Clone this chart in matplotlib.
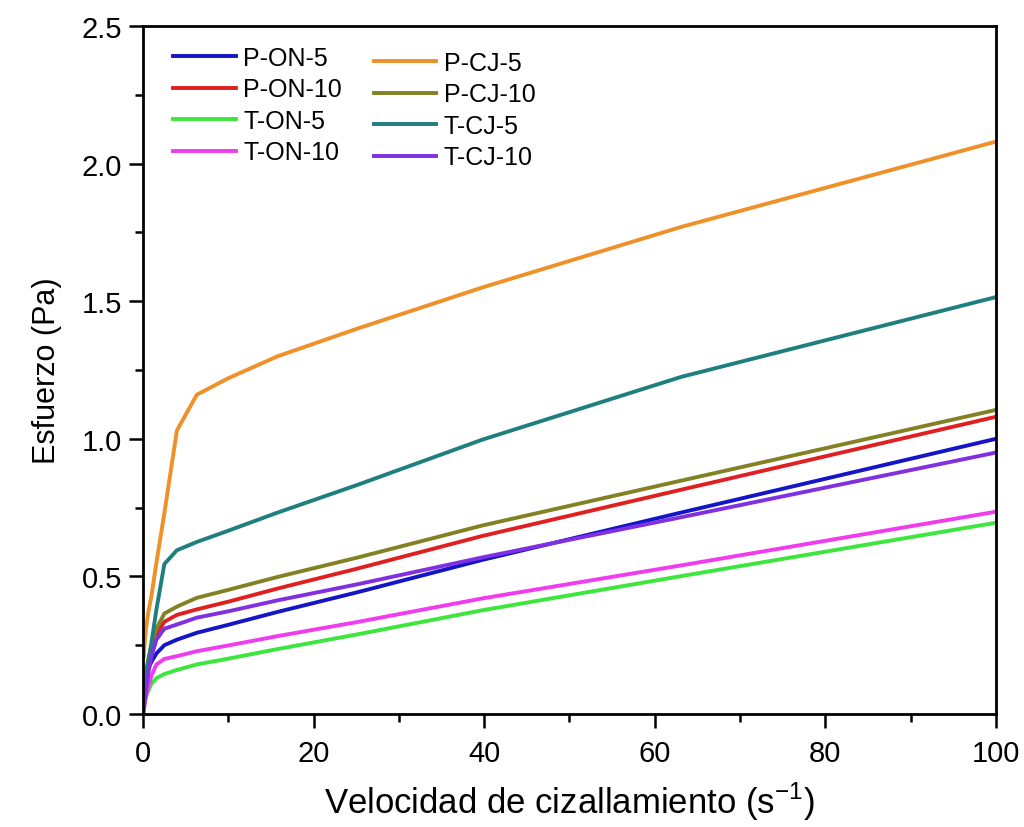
import matplotlib
matplotlib.use("Agg")
import matplotlib.pyplot as plt
from matplotlib.ticker import MultipleLocator, FormatStrFormatter

plt.rcParams['font.family'] = ['Liberation Sans', 'DejaVu Sans']
plt.rcParams['mathtext.fontset'] = 'custom'
plt.rcParams['mathtext.rm'] = 'Liberation Sans'

shear_rate = [0.1, 0.158, 0.251, 0.398, 0.631, 1.0, 1.58, 2.51, 3.98, 6.31,
              10.0, 15.8, 25.1, 39.8, 63.1, 100.0]

P_ON_5  = [0.08, 0.10, 0.12, 0.14, 0.165, 0.19, 0.22, 0.25, 0.27, 0.295,
           0.324, 0.371, 0.442, 0.56, 0.732, 1.00]
P_ON_10 = [0.05, 0.08, 0.11, 0.15, 0.19, 0.24, 0.29, 0.335, 0.36, 0.38,
           0.408, 0.456, 0.528, 0.647, 0.815, 1.08]
T_ON_5  = [0.03, 0.04, 0.05, 0.065, 0.085, 0.11, 0.13, 0.145, 0.16, 0.18,
           0.201, 0.236, 0.289, 0.377, 0.501, 0.695]
T_ON_10 = [0.02, 0.03, 0.05, 0.07, 0.10, 0.14, 0.18, 0.20, 0.21, 0.228,
           0.249, 0.283, 0.334, 0.42, 0.54, 0.735]
P_CJ_5  = [0.21, 0.24, 0.28, 0.32, 0.37, 0.43, 0.55, 0.73, 1.03, 1.16,
           1.22, 1.30, 1.40, 1.55, 1.77, 2.08]
P_CJ_10 = [0.06, 0.09, 0.12, 0.16, 0.20, 0.25, 0.31, 0.365, 0.39, 0.422,
           0.451, 0.498, 0.568, 0.685, 0.848, 1.105]
T_CJ_5  = [0.08, 0.10, 0.12, 0.15, 0.19, 0.26, 0.38, 0.545, 0.595, 0.625,
           0.666, 0.732, 0.832, 0.997, 1.225, 1.515]
T_CJ_10 = [0.01, 0.03, 0.06, 0.10, 0.15, 0.21, 0.27, 0.31, 0.325, 0.35,
           0.373, 0.413, 0.471, 0.569, 0.715, 0.95]

labels_left = ['P-ON-5', 'P-ON-10', 'T-ON-5', 'T-ON-10']
labels_right = ['P-CJ-5', 'P-CJ-10', 'T-CJ-5', 'T-CJ-10']
series_left = [P_ON_5, P_ON_10, T_ON_5, T_ON_10]
series_right = [P_CJ_5, P_CJ_10, T_CJ_5, T_CJ_10]
colors_left = ['#1515C8', '#E02020', '#3CE63C', '#EE3CEE']
colors_right = ['#F09028', '#828224', '#1F7F7F', '#8030E0']

fig = plt.figure(figsize=(10.24, 8.28), dpi=100)
ax = fig.add_axes([0.1396, 0.1365, 0.8331, 0.8309])

lines_left = []
for lab, ys, c in zip(labels_left, series_left, colors_left):
    l, = ax.plot(shear_rate, ys, color=c, lw=2.8, label=lab)
    lines_left.append(l)
lines_right = []
for lab, ys, c in zip(labels_right, series_right, colors_right):
    l, = ax.plot(shear_rate, ys, color=c, lw=2.8, label=lab)
    lines_right.append(l)

ax.set_xlim(0, 100)
ax.set_ylim(0, 2.5)
ax.xaxis.set_major_locator(MultipleLocator(20))
ax.xaxis.set_minor_locator(MultipleLocator(10))
ax.yaxis.set_major_locator(MultipleLocator(0.5))
ax.yaxis.set_minor_locator(MultipleLocator(0.25))
ax.yaxis.set_major_formatter(FormatStrFormatter('%.1f'))
ax.tick_params(which='both', direction='out', top=False, right=False,
               width=1.8, colors='black')
ax.tick_params(axis='x', which='major', labelsize=21, length=10, pad=8)
ax.tick_params(axis='y', which='major', labelsize=21, length=10, pad=5)
ax.tick_params(which='minor', length=6)
for s in ax.spines.values():
    s.set_linewidth(2.0)
    s.set_color('black')

ax.set_xlabel('Velocidad de cizallamiento (s$^{\\mathregular{-1}}$)', fontsize=25, labelpad=9)
ax.set_ylabel('Esfuerzo (Pa)', fontsize=22, labelpad=14)

leg1 = ax.legend(handles=lines_left, loc='upper left', bbox_to_anchor=(0.012, 1.0),
                 frameon=False, fontsize=18, handlelength=2.5, handletextpad=0.3,
                 labelspacing=0.3, borderaxespad=0.4)
ax.add_artist(leg1)
leg2 = ax.legend(handles=lines_right, loc='upper left', bbox_to_anchor=(0.247, 0.993),
                 frameon=False, fontsize=18, handlelength=2.5, handletextpad=0.3,
                 labelspacing=0.3, borderaxespad=0.4)

fig.savefig('out.png', dpi=100)
